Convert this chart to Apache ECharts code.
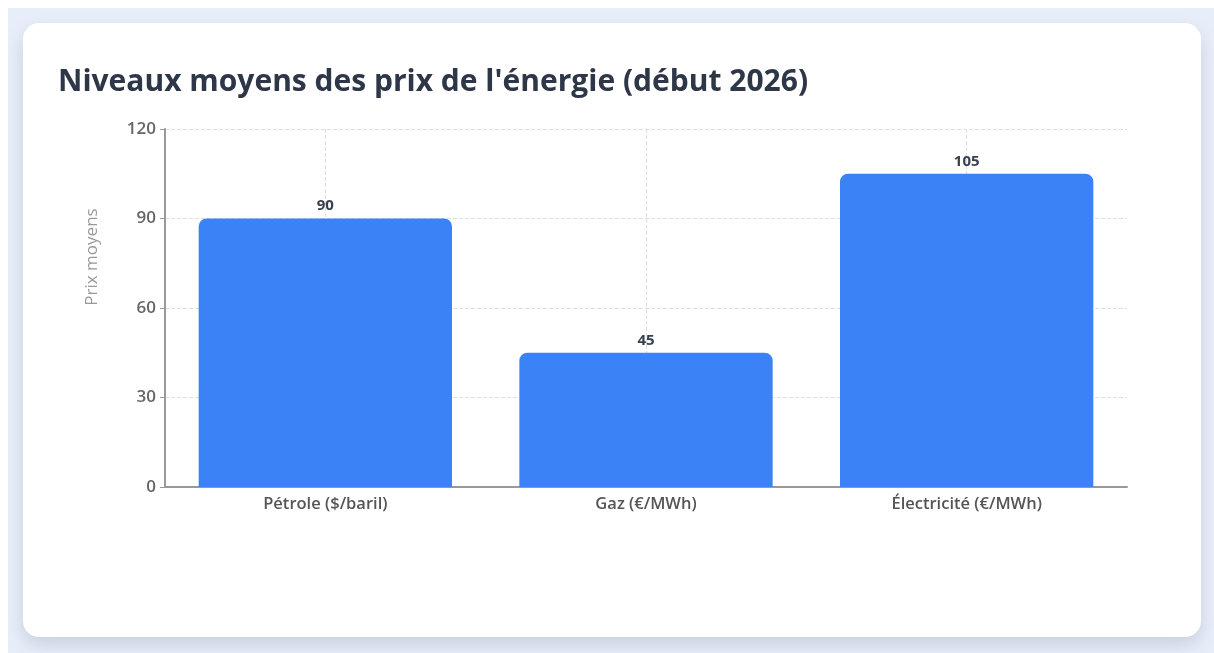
<!DOCTYPE html>
<html>
<head>
<meta charset="utf-8">
<script src="https://cdn.jsdelivr.net/npm/echarts@6/dist/echarts.min.js"></script>
<style>
  html, body { margin: 0; padding: 0; background: #fff; }
  .page { position: absolute; left: 8px; top: 8px; width: 1206px; height: 645px; background: #e8eef9; }
  .card { position: absolute; left: 15px; top: 15px; width: 1178px; height: 614px; background: #fff;
          border-radius: 16px; box-shadow: 0 8px 18px rgba(60, 72, 110, 0.18); }
  #main { position: absolute; left: 0; top: 0; width: 1178px; height: 614px; }
</style>
</head>
<body>
<div class="page">
  <div class="card">
    <div id="main"></div>
  </div>
</div>
<script>
const categories = ["Pétrole ($/baril)", "Gaz (€/MWh)", "Électricité (€/MWh)"];
const prices = [90, 45, 105];
const yTicks = [0, 30, 60, 90, 120];

const mainEl = document.getElementById("main");
let charts = echarts.init(mainEl);

const font = "'Open Sans', 'Noto Sans', sans-serif";

const option = {
    animation: false,
    textStyle: { fontFamily: font },
    title: {
        text: "Niveaux moyens des prix de l'énergie (début 2026)",
        left: 30,
        top: 39,
        textStyle: { fontSize: 30, fontWeight: 'bold', color: '#2d3748', fontFamily: font }
    },
    grid: { left: 142, right: 74, top: 106, bottom: 150 },
    xAxis: {
        type: 'category',
        data: categories,
        axisLine: { lineStyle: { color: '#999', width: 2 } },
        axisTick: { alignWithLabel: true, lineStyle: { color: '#999' } },
        axisLabel: { fontSize: 16.5, fontWeight: 600, color: '#555', margin: 9 },
        splitLine: { show: true, alignWithLabel: true, lineStyle: { type: 'dashed', color: '#dcdfe4' } }
    },
    yAxis: {
        type: 'value',
        min: yTicks[0],
        max: yTicks[yTicks.length - 1],
        interval: yTicks[1] - yTicks[0],
        name: 'Prix moyens',
        nameLocation: 'middle',
        nameGap: 64,
        nameTextStyle: { fontSize: 17, color: '#999', padding: [0, 0, 0, 102] },
        axisLine: { show: true, lineStyle: { color: '#999', width: 2 } },
        axisTick: { show: true, lineStyle: { color: '#999' } },
        axisLabel: { fontSize: 17, fontWeight: 600, color: '#666', margin: 9 },
        splitLine: { lineStyle: { type: 'dashed', color: '#dcdfe4' } }
    },
    series: [
        {
            name: 'Prix',
            type: 'bar',
            data: prices,
            barCategoryGap: '21%',
            itemStyle: { color: '#3b82f6', borderRadius: [8, 8, 0, 0] },
            label: {
                show: true,
                position: 'top',
                distance: 5,
                fontSize: 15,
                fontWeight: 'bold',
                color: '#374151'
            }
        }
    ]
};

charts.setOption(option);
</script>
</body>
</html>
